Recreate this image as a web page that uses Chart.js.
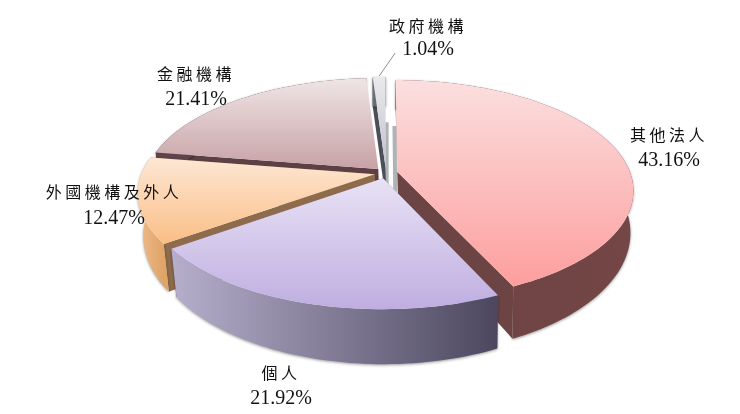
<!DOCTYPE html>
<html>
<head>
<meta charset="utf-8">
<style>
  html, body { margin: 0; padding: 0; background: #fff; }
  canvas { display: block; }
</style>
<script src="https://cdn.jsdelivr.net/npm/chart.js@4"></script>
</head>
<body>
<canvas id="pie" width="740" height="414"></canvas>
<script>
const categories = ['其他法人', '個人', '外國機構及外人', '金融機構', '政府機構'];
const shares = [43.16, 21.92, 12.47, 21.41, 1.04];
const shareLabels = ['43.16%', '21.92%', '12.47%', '21.41%', '1.04%'];

// styles, one per slice
const topColors = [['#fbdfdf', '#fd9e9e'], ['#e8e2f5', '#bfaee0'], ['#fde7d4', '#fbbe86'], ['#f0e5e5', '#c7a2a6'], ['#eaeaed', '#bfc3cb']];
const rimColors = [['#6c4343', '#744646'], ['#b6afcc', '#4c475f'], ['#efbc8b', '#dfa468'], ['#5f434a', '#5c4046'], ['#6d6f7a', '#4a4c57']];
const edgeColors = ['#6c4444', '#6a6080', '#8d6b4b', '#5c4046', '#4c4e59'];
const paintOrder = [4, 3, 2, 0, 1];

// label anchors: [x, first line y, second line y]
const labelAnchors = [[669, 135, 161], [281, 373, 399], [114, 192, 219], [196, 74, 100], [428, 26, 50]];

// perspective of the pie plane and of the extruded bottom
const view = { cx: 386, cy: 173, a: 233, b: 107.4, k: 0.1657, vanishX: 462, shrink: 0.0174, depth: 40, depthGrow: 0.11 };

function project(u, v, lower) {
    const w = 1 - view.k * v;
    let x = view.cx + view.a * u / w;
    let y = view.cy + view.b * v / w;
    if (lower) {
        // back of the pie keeps its x so nothing peeks out behind the top faces
        const front = Math.min(1, Math.max(0, (y - 100) / 60));
        x += (view.vanishX - x) * view.shrink * front;
        y += view.depth + (y - view.cy) * view.depthGrow;
    }
    return [x, y];
}

function tracePoints(ctx, pts) {
    ctx.beginPath();
    pts.forEach((p, i) => i ? ctx.lineTo(p[0], p[1]) : ctx.moveTo(p[0], p[1]));
    ctx.closePath();
}

function drawSlice(ctx, el, i) {
    const start = el.startAngle, end = el.endAngle, mid = (start + end) / 2;
    const e = el.options.offset / el.outerRadius;
    const ox = e * Math.cos(mid), oy = e * Math.sin(mid);
    const steps = Math.max(4, Math.round((end - start) * 40));
    const rim = (lower) => {
        const pts = [];
        for (let s = 0; s <= steps; s++) {
            const t = start + (end - start) * s / steps;
            pts.push(project(ox + Math.cos(t), oy + Math.sin(t), lower));
        }
        return pts;
    };
    const topRim = rim(false), lowRim = rim(true);
    const apexTop = project(ox, oy, false), apexLow = project(ox, oy, true);

    const radialWalls = () => {
        ctx.fillStyle = edgeColors[i];
        tracePoints(ctx, [apexTop, topRim[0], lowRim[0], apexLow]);
        ctx.fill();
        // the far side of the two back slices stays hidden
        if (i < 3) {
            tracePoints(ctx, [apexTop, topRim[steps], lowRim[steps], apexLow]);
            ctx.fill();
        }
    };

    // the big slice shows its cut side in front of its rim, the others behind
    if (i !== 0) radialWalls();

    // outer wall, lit from the left
    const xs = topRim.map(p => p[0]);
    const wall = ctx.createLinearGradient(Math.min(...xs), 0, Math.max(...xs), 0);
    wall.addColorStop(0, rimColors[i][0]);
    wall.addColorStop(1, rimColors[i][1]);
    ctx.save();
    ctx.shadowColor = 'rgba(0, 0, 0, 0.4)';
    ctx.shadowBlur = 3;
    ctx.shadowOffsetY = 1;
    ctx.fillStyle = wall;
    tracePoints(ctx, topRim.concat(lowRim.slice().reverse()));
    ctx.fill();
    ctx.restore();

    if (i === 0) radialWalls();

    // top face
    const ys = topRim.map(p => p[1]).concat(apexTop[1]);
    const face = ctx.createLinearGradient(0, Math.min(...ys), 0, Math.max(...ys));
    face.addColorStop(0, topColors[i][0]);
    face.addColorStop(1, topColors[i][1]);
    ctx.fillStyle = face;
    tracePoints(ctx, [apexTop].concat(topRim));
    ctx.fill();

    return { apexTop, apexLow, topRim };
}

// soft grey strips either side of the narrow gap behind the sliver
function drawGapStrip(ctx, apex, rimPt, shift) {
    const t = 0.5;
    const mx = apex[0] + (rimPt[0] - apex[0]) * t, my = apex[1] + (rimPt[1] - apex[1]) * t;
    ctx.fillStyle = 'rgba(150, 153, 158, 0.75)';
    tracePoints(ctx, [[mx, my], [mx + shift, my], [apex[0] + shift, apex[1] + 20], [apex[0], apex[1] + 20]]);
    ctx.fill();
}

const pie3d = {
    id: 'pie3d',
    beforeDatasetsDraw(chart) {
        const ctx = chart.ctx;
        const arcs = chart.getDatasetMeta(0).data;
        const parts = [];
        ctx.save();
        paintOrder.forEach(i => {
            if (i === 0) {
                // strips sit behind the big slice and the front slice
                const e0 = arcs[0].options.offset / arcs[0].outerRadius;
                const m0 = (arcs[0].startAngle + arcs[0].endAngle) / 2, m4 = (arcs[4].startAngle + arcs[4].endAngle) / 2;
                const a0 = [e0 * Math.cos(m0), e0 * Math.sin(m0)];
                const a4 = [e0 * Math.cos(m4), e0 * Math.sin(m4)];
                drawGapStrip(ctx, project(a0[0], a0[1]), project(a0[0], a0[1] - 1), -4);
                drawGapStrip(ctx, project(a4[0], a4[1]), project(a4[0], a4[1] - 1), 3);
            }
            parts[i] = drawSlice(ctx, arcs[i], i);
        });

        // leader line of the sliver
        const tip = parts[4].topRim[Math.floor(parts[4].topRim.length / 2)];
        ctx.strokeStyle = '#8c8c8c';
        ctx.lineWidth = 1;
        ctx.beginPath();
        ctx.moveTo(tip[0], tip[1] - 1);
        ctx.lineTo(tip[0] + 16, tip[1] - 24);
        ctx.stroke();
        ctx.restore();
        return false;
    },
    afterDraw(chart) {
        const ctx = chart.ctx;
        ctx.save();
        ctx.fillStyle = '#111';
        ctx.textAlign = 'center';
        ctx.textBaseline = 'middle';
        categories.forEach((name, i) => {
            const [x, y1, y2] = labelAnchors[i];
            ctx.font = '16px "Noto Sans CJK TC"';
            ctx.letterSpacing = '3.5px';
            ctx.fillText(name, x, y1);
            ctx.font = '20px "Liberation Serif"';
            ctx.letterSpacing = '0px';
            ctx.fillText(shareLabels[i], x, y2);
        });
        ctx.restore();
    }
};

new Chart(document.getElementById('pie'), {
    type: 'pie',
    data: {
        labels: categories,
        datasets: [{
            data: shares,
            backgroundColor: topColors.map(c => c[1]),
            offset: 10,
            borderWidth: 0
        }]
    },
    options: {
        responsive: false,
        animation: false,
        plugins: { legend: { display: false }, tooltip: { enabled: false } }
    },
    plugins: [pie3d]
});
</script>
</body>
</html>
